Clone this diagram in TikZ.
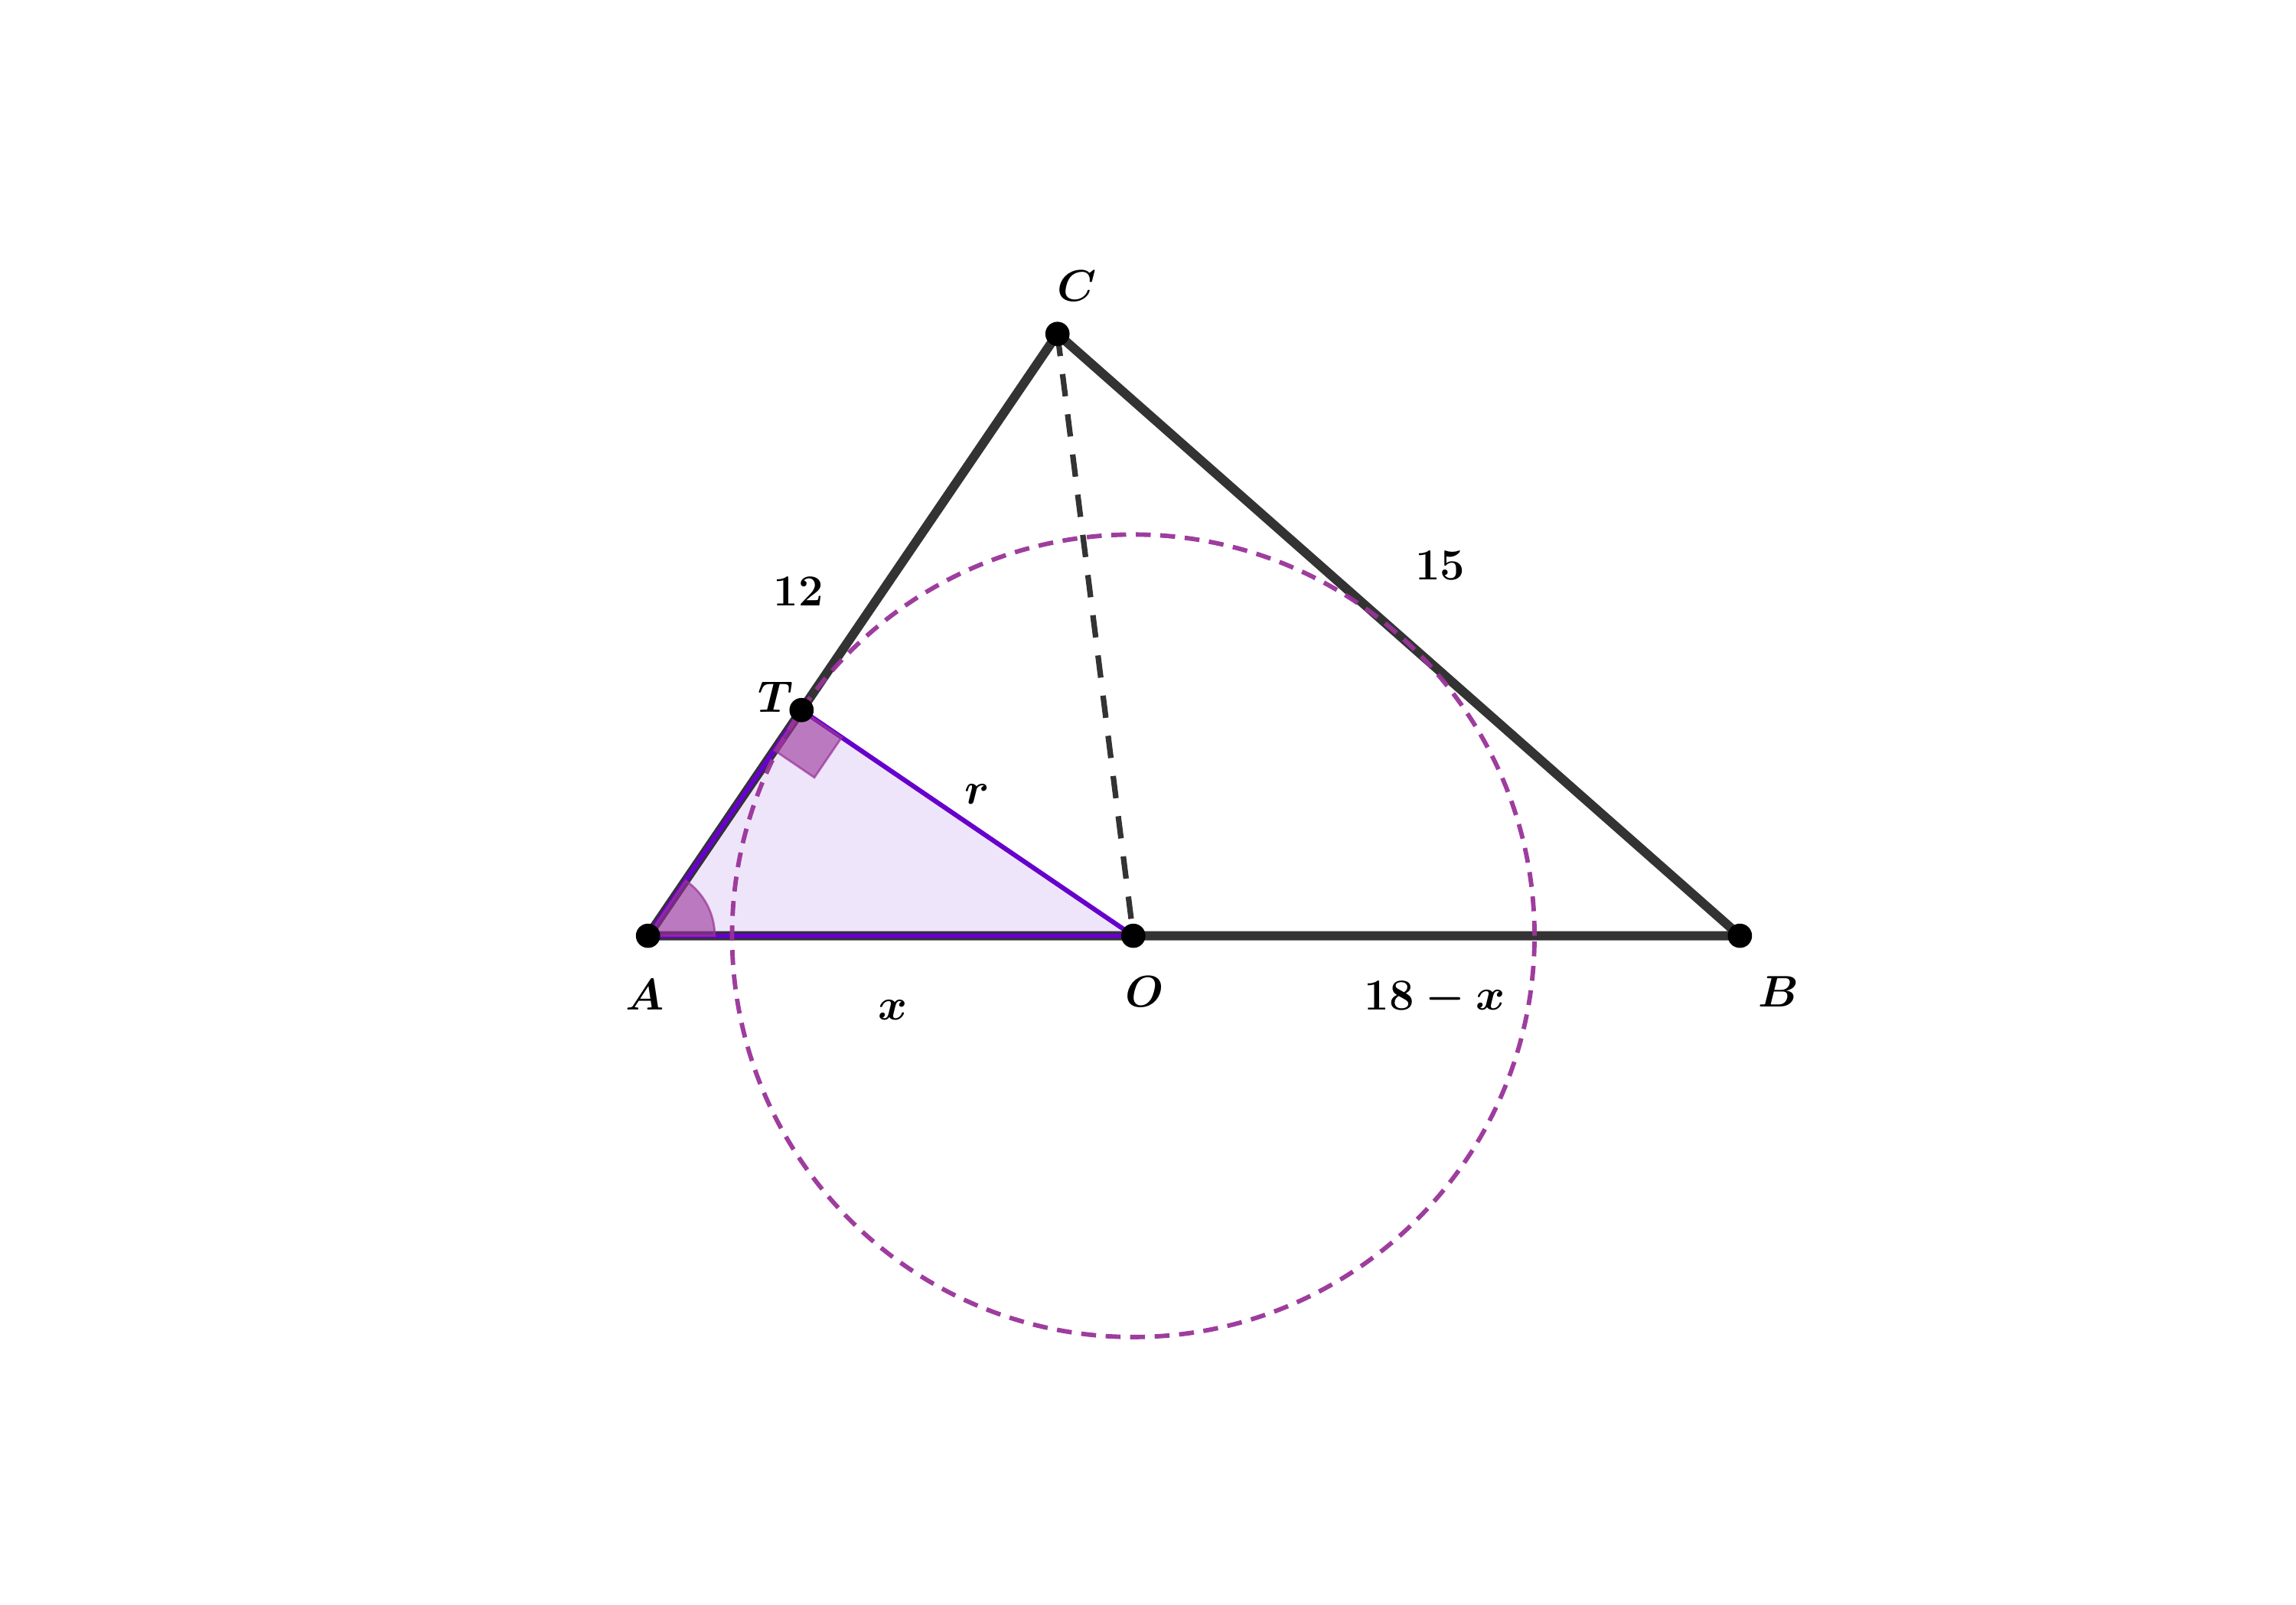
\documentclass[tikz,border=0pt]{standalone}
\usepackage{amsmath}
\usetikzlibrary{calc}
\definecolor{tri}{HTML}{333333}
\definecolor{vio}{HTML}{6600CC}
\definecolor{pur}{HTML}{993399}
\tikzset{
  sideline/.style={draw=tri, line width=4.3pt, line join=round},
  violine/.style={draw=vio, line width=2.2pt, line join=round},
  circdash/.style={draw=pur, line width=2.1pt, dash pattern=on 7pt off 4.5pt, draw opacity=0.95},
  codash/.style={draw=tri, line width=2.6pt, dash pattern=on 10.5pt off 8.5pt},
  dot/.style={circle, fill=black, inner sep=0pt, minimum size=0.4cm},
  lbl/.style={font=\fontsize{20}{24}\selectfont\boldmath, inner sep=0pt},
  anglemark/.style={fill=pur, fill opacity=0.6, draw=pur, draw opacity=0.7, line width=1pt}
}
\begin{document}
\begin{tikzpicture}
\useasboundingbox (-10.683,-11.031) rectangle (27.168,15.426);
\coordinate (A) at (0,0);
\coordinate (B) at (18,0);
\coordinate (C) at (6.75,9.9216);
\coordinate (O) at (8,0);
\coordinate (T) at (2.53125,3.72059);
% shaded right triangle
\fill[vio, fill opacity=0.1] (A) -- (T) -- (O) -- cycle;
% main triangle
\draw[sideline] (A) -- (B) -- (C) -- cycle;
% purple triangle ATO
\draw[violine] (A) -- (T) -- (O) -- cycle;
% angle mark at A
\draw[anglemark] (A) -- (1.1,0) arc[start angle=0, end angle=55.77, radius=1.1] -- cycle;
% right angle mark at T
\draw[anglemark] (T) -- (2.0813,3.0591) -- (2.7427,2.6091) -- (3.1927,3.2706) -- cycle;
% circle
\draw[circdash] (O) circle[radius=6.6144];
% dashed CO
\draw[codash] (C) -- (O);
% points
\node[dot] (pA) at (A) {};
\node[dot] (pB) at (B) {};
\node[dot] (pC) at (C) {};
\node[dot] (pO) at (O) {};
\node[dot] (pT) at (T) {};
% labels
\node[lbl] (lA) at (-0.05,-0.97) {$A$};
\node[lbl] (lB) at (18.64,-0.92) {$B$};
\node[lbl] (lC) at (7.07,10.71) {$C$};
\node[lbl] (lO) at (8.19,-0.92) {$O$};
\node[lbl] (lT) at (2.10,3.93) {$T$};
\node[lbl] (lr) at (5.43,2.33) {$r$};
\node[lbl] (l15) at (13.06,6.10) {$15$};
\node[lbl] (l12) at (2.48,5.67) {$12$};
\node[lbl] (lx) at (4.04,-1.23) {$x$};
\node[lbl] (l18) at (12.97,-1.04) {$18-x$};
\end{tikzpicture}
\end{document}
